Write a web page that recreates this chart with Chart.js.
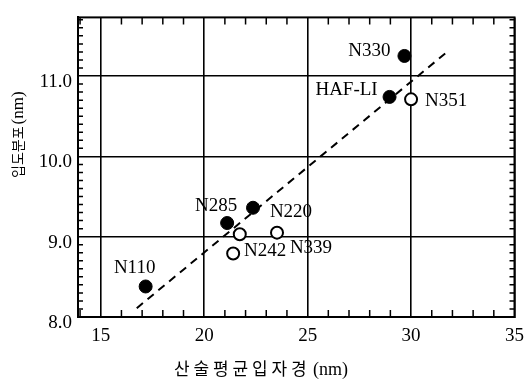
<!DOCTYPE html>
<html>
<head>
<meta charset="utf-8">
<script src="https://cdn.jsdelivr.net/npm/chart.js@4.4.1/dist/chart.umd.min.js"></script>
<style>
  html, body { margin: 0; padding: 0; background: #fff; }
</style>
</head>
<body>
<canvas id="chart" width="532" height="383"></canvas>
<script>
// Data
const filledNames = ['N330', 'HAF-LI', 'N285', 'N220', 'N110'];
const filledX = [29.68, 28.96, 21.11, 22.36, 17.17];
const filledY = [11.25, 10.74, 9.17, 9.36, 8.38];

const openNames = ['N351', '', 'N339', 'N242'];
const openX = [30.0, 21.72, 23.52, 21.4];
const openY = [10.71, 9.03, 9.05, 8.79];

// dashed regression line end points
const trendX = [16.74, 31.74];
const trendY = [8.11, 11.30];

const xTicks = [15, 20, 25, 30, 35];
const yTicks = [8, 9, 10, 11];

// axis titles: Korean part + unit
const xTitle = ['산술평균입자경', '(nm)'];
const yTitle = ['입도분포', '(nm)'];

const serif = '"Liberation Serif", "DejaVu Serif", serif';
const korean = '"Noto Sans CJK KR", sans-serif';

// where each label sits relative to its marker (px)
const labelOffsets = {
    'N330': [-35, -5],
    'HAF-LI': [-43, -7],
    'N351': [35, 2],
    'N285': [-11, -17],
    'N220': [38, 4],
    'N339': [34, 15],
    'N242': [32, -3],
    'N110': [-11, -18]
};

const toPoints = (xs, ys) => xs.map((x, i) => ({ x, y: ys[i] }));

// inward minor ticks, frame, point labels and axis titles
const decorations = {
    id: 'decorations',
    afterDraw(chart) {
        const { ctx, chartArea: a, scales: { x, y } } = chart;
        ctx.save();
        ctx.strokeStyle = '#000';
        ctx.lineWidth = 1.5;
        ctx.beginPath();
        for (let v = 14; v <= 35; v++) {
            if (v % 5 === 0) continue;
            const px = x.getPixelForValue(v);
            ctx.moveTo(px, a.bottom); ctx.lineTo(px, a.bottom - 7);
            ctx.moveTo(px, a.top); ctx.lineTo(px, a.top + 7);
        }
        for (let i = 81; i <= 117; i++) {
            if (i % 10 === 0) continue;
            const py = y.getPixelForValue(i / 10);
            ctx.moveTo(a.left, py); ctx.lineTo(a.left + 5, py);
            ctx.moveTo(a.right, py); ctx.lineTo(a.right - 5, py);
        }
        ctx.stroke();

        ctx.lineWidth = 2;
        ctx.strokeRect(a.left, a.top, a.right - a.left, a.bottom - a.top);

        // point labels
        ctx.fillStyle = '#000';
        ctx.font = '19px ' + serif;
        ctx.textAlign = 'center';
        ctx.textBaseline = 'middle';
        const drawNames = (names, xs, ys) => names.forEach((name, i) => {
            if (!name) return;
            const off = labelOffsets[name] || [0, 0];
            ctx.fillText(name, x.getPixelForValue(xs[i]) + off[0], y.getPixelForValue(ys[i]) + off[1]);
        });
        drawNames(filledNames, filledX, filledY);
        drawNames(openNames, openX, openY);

        // x axis title, Korean part is widely spaced in the original
        ctx.textAlign = 'left';
        ctx.font = '17px ' + korean;
        [...xTitle[0]].forEach((ch, i) => ctx.fillText(ch, 174 + i * 19.5, 369));
        ctx.font = '18px ' + serif;
        ctx.fillText(xTitle[1], 313, 370);

        // y axis title, reads bottom to top
        ctx.translate(18, 178);
        ctx.rotate(-Math.PI / 2);
        ctx.font = '14px ' + korean;
        ctx.fillText(yTitle[0], 0, 0);
        const w = ctx.measureText(yTitle[0]).width;
        ctx.font = '17px ' + serif;
        ctx.fillText(yTitle[1], w + 2, 1);
        ctx.restore();
    }
};

new Chart(document.getElementById('chart').getContext('2d'), {
    type: 'scatter',
    data: {
        datasets: [
            {
                label: 'filled',
                data: toPoints(filledX, filledY),
                pointRadius: 6.5,
                pointBackgroundColor: '#000',
                pointBorderColor: '#000',
                pointBorderWidth: 1
            },
            {
                label: 'open',
                data: toPoints(openX, openY),
                pointRadius: 6,
                pointBackgroundColor: '#fff',
                pointBorderColor: '#000',
                pointBorderWidth: 2
            },
            {
                label: 'trend',
                type: 'line',
                data: toPoints(trendX, trendY),
                borderColor: '#000',
                borderWidth: 2,
                borderDash: [8, 6],
                pointRadius: 0,
                fill: false
            }
        ]
    },
    options: {
        responsive: false,
        animation: false,
        layout: { padding: { top: 9, right: 16, left: 0, bottom: 0 } },
        plugins: {
            legend: { display: false },
            tooltip: { enabled: false }
        },
        scales: {
            x: {
                type: 'linear',
                min: 13.9,
                max: 35,
                afterBuildTicks: scale => { scale.ticks = xTicks.map(v => ({ value: v })); },
                afterFit: scale => { scale.height = 66; },
                grid: { color: '#000', lineWidth: 1.6, drawTicks: false },
                border: { display: true, color: '#000', width: 2 },
                ticks: {
                    color: '#000',
                    font: { family: serif, size: 19 },
                    padding: 8,
                    maxRotation: 0
                }
            },
            y: {
                type: 'linear',
                min: 8,
                max: 11.73,
                afterBuildTicks: scale => { scale.ticks = yTicks.map(v => ({ value: v })); },
                afterFit: scale => { scale.width = 78; },
                grid: { color: '#000', lineWidth: 1.6, drawTicks: false },
                border: { display: true, color: '#000', width: 2 },
                ticks: {
                    color: '#000',
                    font: { family: serif, size: 19 },
                    padding: 6,
                    labelOffset: 6,
                    callback: v => v.toFixed(1)
                }
            }
        }
    },
    plugins: [decorations]
});
</script>
</body>
</html>
